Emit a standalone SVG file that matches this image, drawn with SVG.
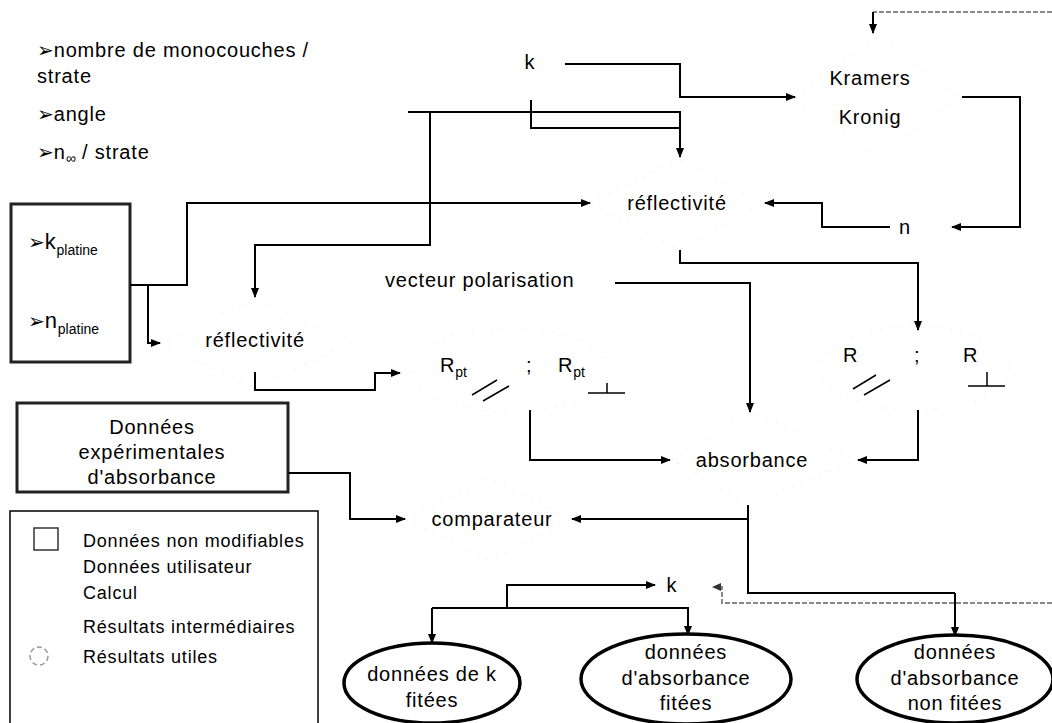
<svg xmlns="http://www.w3.org/2000/svg" width="1052" height="723" viewBox="0 0 1052 723">
<defs>
<marker id="ah" viewBox="0 0 10 10" refX="9" refY="5" markerWidth="10" markerHeight="10" markerUnits="userSpaceOnUse" orient="auto">
<path d="M0,1 L10,5 L0,9 z" fill="#000"/>
</marker>
</defs>
<style>
text{font-family:"Liberation Sans",Arial,sans-serif;font-size:20px;fill:#000;letter-spacing:0.8px}
.m{text-anchor:middle}
.sub{font-size:14px;letter-spacing:0}
.bul{font-family:"DejaVu Sans",sans-serif;font-weight:bold;letter-spacing:0}
.lg{font-size:18px}
.ln{fill:none;stroke:#000;stroke-width:2}
.arr{marker-end:url(#ah)}
.dash{fill:none;stroke:#888;stroke-width:2;stroke-dasharray:5,2}
.faint{fill:none;stroke:#dddddd;stroke-width:1;stroke-dasharray:1,9}
.box{fill:none;stroke:#222;stroke-width:3}
.res{fill:#fff;stroke:#000;stroke-width:3.5}
.th{stroke:#000;stroke-width:1.5}
</style>
<rect width="1052" height="723" fill="#fff"/>

<g id="parametres">
<text x="37" y="57"><tspan class="bul">➢</tspan>nombre de monocouches /</text>
<text x="37" y="83">strate</text>
<text x="37" y="121"><tspan class="bul">➢</tspan>angle</text>
<text x="37" y="159"><tspan class="bul">➢</tspan>n<tspan class="sub" dy="4">∞</tspan><tspan dy="-4"> / strate</tspan></text>
</g>

<g id="platine">
<rect class="box" x="11" y="204" width="119" height="158"/>
<text x="28" y="249" style="font-size:22px"><tspan class="bul" style="font-size:20px">➢</tspan>k<tspan class="sub" dy="6">platine</tspan></text>
<text x="28" y="328" style="font-size:22px"><tspan class="bul" style="font-size:20px">➢</tspan>n<tspan class="sub" dy="6">platine</tspan></text>
</g>

<g id="k-haut"><text class="m" x="530" y="69">k</text></g>

<g id="kramers-kronig">
<path class="faint" d="M795,97 L877,37 L962,97 L877,158 Z"/>
<text class="m" x="870" y="85">Kramers</text>
<text class="m" x="870" y="124">Kronig</text>
</g>

<g id="reflectivite-haut">
<path class="faint" d="M590,203 L678,160 L765,203 L678,250 Z"/>
<text class="m" x="677" y="210">réflectivité</text>
</g>

<g id="n"><text class="m" x="905" y="234">n</text></g>

<g id="vecteur"><text x="385" y="287">vecteur polarisation</text></g>

<g id="reflectivite-bas">
<path class="faint" d="M160,343 L255,298 L350,343 L255,388 Z"/>
<text class="m" x="255" y="347">réflectivité</text>
</g>

<g id="rpt">
<ellipse class="faint" cx="510" cy="370" rx="100" ry="42"/>
<text x="440" y="372">R<tspan class="sub" dy="5">pt</tspan></text>
<line class="th" x1="472" y1="395" x2="497" y2="380"/>
<line class="th" x1="483" y1="401" x2="509" y2="386"/>
<text x="526" y="372">;</text>
<text x="558" y="372">R<tspan class="sub" dy="5">pt</tspan></text>
<line class="th" x1="588" y1="393" x2="625" y2="393"/>
<line class="th" x1="607" y1="383" x2="607" y2="393"/>
</g>

<g id="r">
<ellipse class="faint" cx="915" cy="368" rx="95" ry="42"/>
<text x="843" y="362">R</text>
<line class="th" x1="853" y1="389" x2="876" y2="375"/>
<line class="th" x1="864" y1="395" x2="890" y2="380"/>
<text x="914" y="362">;</text>
<text x="963" y="362">R</text>
<line class="th" x1="968" y1="386" x2="1005" y2="386"/>
<line class="th" x1="987" y1="372" x2="987" y2="386"/>
</g>

<g id="absorbance">
<path class="faint" d="M672,460 L750,412 L858,460 L748,505 Z"/>
<text class="m" x="752" y="467">absorbance</text>
</g>

<g id="donnees-exp">
<rect class="box" x="17" y="403" width="271" height="89"/>
<text class="m" x="152" y="434">Données</text>
<text class="m" x="152" y="459">expérimentales</text>
<text class="m" x="152" y="484">d'absorbance</text>
</g>

<g id="comparateur">
<path class="faint" d="M405,519 L490,478 L572,519 L490,560 Z"/>
<text class="m" x="492" y="526">comparateur</text>
</g>

<g id="k-bas"><text class="m" x="672" y="592">k</text></g>

<g id="legende">
<rect x="10" y="511" width="308" height="216" fill="none" stroke="#000" stroke-width="1.5"/>
<rect x="34" y="528" width="24" height="22" fill="none" stroke="#333" stroke-width="1.5"/>
<text class="lg" x="83" y="547">Données non modifiables</text>
<text class="lg" x="83" y="573">Données utilisateur</text>
<text class="lg" x="83" y="599">Calcul</text>
<text class="lg" x="83" y="633">Résultats intermédiaires</text>
<circle cx="39" cy="656" r="9" fill="none" stroke="#999" stroke-width="1.5" stroke-dasharray="5,3"/>
<text class="lg" x="83" y="663">Résultats utiles</text>
</g>

<g id="res-k">
<ellipse class="res" cx="432" cy="683" rx="88" ry="40"/>
<text class="m" x="432" y="681">données de k</text>
<text class="m" x="432" y="707">fitées</text>
</g>
<g id="res-abs-fit">
<ellipse class="res" cx="686" cy="679" rx="105" ry="45"/>
<text class="m" x="686" y="659">données</text>
<text class="m" x="686" y="685">d'absorbance</text>
<text class="m" x="686" y="710">fitées</text>
</g>
<g id="res-abs-nonfit">
<ellipse class="res" cx="955" cy="679" rx="98" ry="44"/>
<text class="m" x="955" y="659">données</text>
<text class="m" x="955" y="685">d'absorbance</text>
<text class="m" x="955" y="710">non fitées</text>
</g>

<g id="connecteurs">
<path class="ln arr" d="M565,64 H680 V97 H795"/>
<path class="ln arr" d="M962,97 H1020 V227 H952"/>
<path class="ln arr" d="M890,227 H822 V203 H765"/>
<path class="ln arr" d="M408,112 H680 V157"/>
<path class="ln" d="M531,100 V128 H680"/>
<path class="ln arr" d="M430,112 V245 H255 V297"/>
<path class="ln arr" d="M130,285 H187 V203 H590"/>
<path class="ln arr" d="M148,285 V343 H160"/>
<path class="ln arr" d="M680,250 V263 H918 V330"/>
<path class="ln arr" d="M615,283 H750 V412"/>
<path class="ln arr" d="M255,372 V390 H375 V373 H400"/>
<path class="ln arr" d="M530,410 V460 H670"/>
<path class="ln arr" d="M918,410 V460 H858"/>
<path class="ln arr" d="M288,473 H350 V519 H405"/>
<path class="ln" d="M748,505 V593 H955"/>
<path class="ln arr" d="M748,519 H572"/>
<path class="ln arr" d="M955,593 V636"/>
<path class="ln arr" d="M507,608 V585 H655"/>
<path class="ln arr" d="M432,608 V643"/>
<path class="ln arr" d="M432,608 H688 V635"/>
<path class="dash" d="M1052,603 H722 V587 H714"/>
<path d="M721,583 L712,587 L721,591 Z" fill="#333"/>
<path class="dash" d="M1052,12 H873"/>
<path class="ln arr" d="M873,12 V33"/>
</g>
</svg>
